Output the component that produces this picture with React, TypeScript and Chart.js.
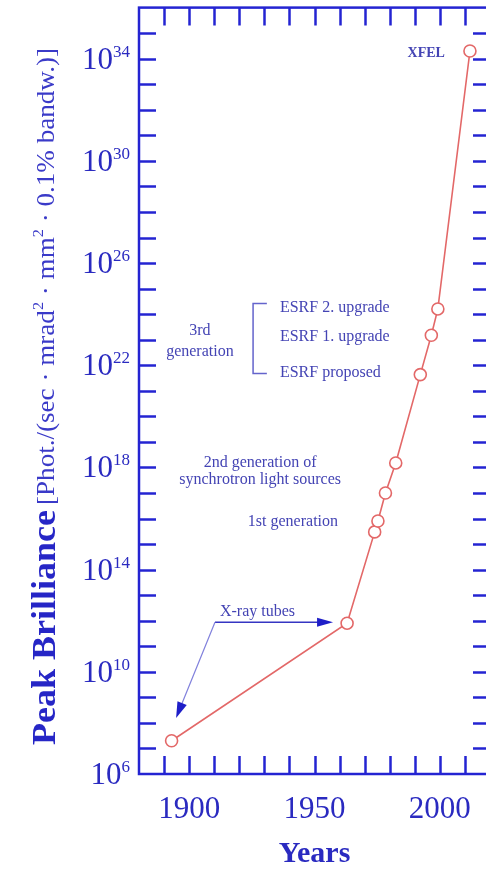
import React, { useEffect, useRef } from "react";
import { Chart, registerables } from "chart.js";

Chart.register(...registerables);

// ---- data ----
const years = [1893, 1963, 1974, 1975.3, 1978.3, 1982.4, 1992.2, 1996.6, 1999.2, 2012];
const brilliance = [2e7, 8e11, 3e15, 8e15, 1e17, 1.5e18, 4.3e21, 1.5e23, 1.6e24, 2e34];

const xTickYears = [1890, 1900, 1910, 1920, 1930, 1940, 1950, 1960, 1970, 1980, 1990, 2000, 2010];
const xLabelYears = [1900, 1950, 2000];
const yTickExponents = [7, 8, 9, 10, 11, 12, 13, 14, 15, 16, 17, 18, 19, 20, 21, 22, 23, 24, 25, 26, 27, 28, 29, 30, 31, 32, 33, 34, 35];
const yLabelExponents = [6, 10, 14, 18, 22, 26, 30, 34];

const xTitle = "Years";
const yTitleMain = "Peak Brilliance";
const yTitleUnitParts = ["[Phot./(sec · mrad", "2", " · mm", "2", " · 0.1% bandw.)]"];

// annotation texts with anchor (year, log10 value)
const annotationTexts = [
  "XFEL",
  "ESRF 2. upgrade",
  "ESRF 1. upgrade",
  "ESRF proposed",
  "3rd",
  "generation",
  "2nd generation of",
  "synchrotron light sources",
  "1st generation",
  "X-ray tubes",
];
const annotationYears = [2002, 1936.2, 1936.2, 1936.2, 1904.3, 1904.3, 1928.3, 1928.3, 1941.4, 1912.3];
const annotationExps = [34.2, 24.26, 23.13, 21.72, 23.33, 22.54, 18.2, 17.5, 15.86, 12.34];
const annotationAlign: CanvasTextAlign[] = ["right", "left", "left", "left", "center", "center", "center", "center", "center", "left"];

// bracket for 3rd generation: x, top exp, bottom exp, tick end x
const bracketYear = 1925.5;
const bracketTickYear = 1931;
const bracketTopExp = 24.42;
const bracketBottomExp = 21.68;

// arrows for X-ray tubes
const arrowStart = [1910.3, 11.94];
const arrowRightEnd = [1957.4, 11.94];
const arrowDownEnd = [1894.8, 8.19];

const SERIF = '"Liberation Serif", "Times New Roman", serif';
const AXIS = "#2424d2";
const LABEL = "#2a2ac0";
const NOTE = "#4444b4";
const LINE = "#e36868";

const CANVAS_W = 520;
const CANVAS_H = 869;

function drawArrowHead(ctx: CanvasRenderingContext2D, fx: number, fy: number, tx: number, ty: number, len: number, half: number) {
  const ang = Math.atan2(ty - fy, tx - fx);
  const bx = tx - len * Math.cos(ang);
  const by = ty - len * Math.sin(ang);
  ctx.beginPath();
  ctx.moveTo(tx, ty);
  ctx.lineTo(bx + half * Math.sin(ang), by - half * Math.cos(ang));
  ctx.lineTo(bx - half * Math.sin(ang), by + half * Math.cos(ang));
  ctx.closePath();
  ctx.fill();
}

const framePlugin = {
  id: "frameAxes",
  beforeDatasetsDraw(chart: any) {
    const { ctx, chartArea: a, scales } = chart;
    const x = scales.x;
    const y = scales.y;
    ctx.save();
    ctx.strokeStyle = AXIS;
    ctx.lineWidth = 2.5;
    ctx.strokeRect(a.left, a.top, a.right - a.left, a.bottom - a.top);
    ctx.beginPath();
    for (const yr of xTickYears) {
      const px = Math.round(x.getPixelForValue(yr)) + 0.5;
      ctx.moveTo(px, a.bottom);
      ctx.lineTo(px, a.bottom - 18);
      ctx.moveTo(px, a.top);
      ctx.lineTo(px, a.top + 18);
    }
    for (const e of yTickExponents) {
      const py = Math.round(y.getPixelForValue(Math.pow(10, e))) + 0.5;
      ctx.moveTo(a.left, py);
      ctx.lineTo(a.left + 17, py);
      ctx.moveTo(a.right, py);
      ctx.lineTo(a.right - 17, py);
    }
    ctx.stroke();

    // y tick labels
    ctx.fillStyle = LABEL;
    ctx.textBaseline = "alphabetic";
    for (const e of yLabelExponents) {
      const py = y.getPixelForValue(Math.pow(10, e));
      const expStr = String(e);
      ctx.font = `17px ${SERIF}`;
      const we = ctx.measureText(expStr).width;
      const right = a.left - 9;
      ctx.textAlign = "left";
      ctx.fillText(expStr, right - we, py - 2);
      ctx.font = `31px ${SERIF}`;
      ctx.textAlign = "right";
      ctx.fillText("10", right - we, py + 10);
    }
    // x tick labels
    ctx.font = `31px ${SERIF}`;
    ctx.textAlign = "center";
    for (const yr of xLabelYears) {
      ctx.fillText(String(yr), x.getPixelForValue(yr), a.bottom + 44);
    }
    // x title
    ctx.font = `bold 30px ${SERIF}`;
    ctx.fillText(xTitle, (a.left + a.right) / 2, a.bottom + 88);

    // y title (rotated)
    ctx.save();
    ctx.translate(55, 0);
    ctx.rotate(-Math.PI / 2);
    // in rotated frame: x' = -canvasY, baseline y'=0
    ctx.textAlign = "left";
    ctx.fillStyle = "#2626c6";
    ctx.font = `bold 34px ${SERIF}`;
    const mainW = ctx.measureText(yTitleMain).width;
    ctx.save();
    ctx.translate(-745, 0);
    ctx.scale(235 / mainW, 1);
    ctx.fillText(yTitleMain, 0, 0);
    ctx.restore();

    // unit part
    ctx.fillStyle = "#3a3ac8";
    let total = 0;
    const widths: number[] = [];
    yTitleUnitParts.forEach((p, i) => {
      ctx.font = i % 2 === 1 ? `15px ${SERIF}` : `25px ${SERIF}`;
      const w = ctx.measureText(p).width;
      widths.push(w);
      total += w;
    });
    ctx.save();
    ctx.translate(-505, -1);
    ctx.scale(457 / total, 1);
    let cx = 0;
    yTitleUnitParts.forEach((p, i) => {
      const sup = i % 2 === 1;
      ctx.font = sup ? `15px ${SERIF}` : `25px ${SERIF}`;
      ctx.fillText(p, cx, sup ? -11 : 0);
      cx += widths[i];
    });
    ctx.restore();
    ctx.restore();

    ctx.restore();
  },
  afterDatasetsDraw(chart: any) {
    const { ctx, scales } = chart;
    const x = scales.x;
    const y = scales.y;
    const px = (yr: number) => x.getPixelForValue(yr);
    const py = (e: number) => y.getPixelForValue(Math.pow(10, e));
    ctx.save();
    ctx.fillStyle = NOTE;
    ctx.textBaseline = "middle";
    annotationTexts.forEach((t, i) => {
      ctx.font = i === 0 ? `bold 14px ${SERIF}` : `16px ${SERIF}`;
      ctx.textAlign = annotationAlign[i];
      ctx.fillText(t, px(annotationYears[i]), py(annotationExps[i]));
    });

    // bracket
    ctx.strokeStyle = "#6464cc";
    ctx.lineWidth = 1.5;
    const bx = px(bracketYear);
    const bt = px(bracketTickYear);
    const top = py(bracketTopExp);
    const bot = py(bracketBottomExp);
    ctx.beginPath();
    ctx.moveTo(bt, top);
    ctx.lineTo(bx, top);
    ctx.lineTo(bx, bot);
    ctx.lineTo(bt, bot);
    ctx.stroke();

    // arrows
    const sx = px(arrowStart[0]);
    const sy = py(arrowStart[1]);
    const rx = px(arrowRightEnd[0]);
    const ry = py(arrowRightEnd[1]);
    const dx = px(arrowDownEnd[0]);
    const dy = py(arrowDownEnd[1]);
    ctx.strokeStyle = "#3535c2";
    ctx.lineWidth = 1.5;
    ctx.beginPath();
    ctx.moveTo(sx, sy);
    ctx.lineTo(rx - 10, ry);
    ctx.stroke();
    ctx.strokeStyle = "#8080dc";
    ctx.lineWidth = 1.2;
    ctx.beginPath();
    ctx.moveTo(sx, sy);
    ctx.lineTo(dx + (sx - dx) * 0.12, dy + (sy - dy) * 0.12);
    ctx.stroke();
    ctx.fillStyle = "#1e1ec8";
    drawArrowHead(ctx, sx, sy, rx, ry, 16, 4.5);
    drawArrowHead(ctx, sx, sy, dx, dy, 16, 5);
    ctx.restore();
  },
};

export default function App() {
  const canvasRef = useRef<HTMLCanvasElement | null>(null);

  useEffect(() => {
    document.body.style.margin = "0";
    const canvas = canvasRef.current;
    if (!canvas) return;
    const chart = new Chart(canvas, {
      type: "line",
      data: {
        datasets: [
          {
            data: years.map((yr, i) => ({ x: yr, y: brilliance[i] })),
            borderColor: LINE,
            borderWidth: 1.6,
            pointRadius: 6,
            pointBackgroundColor: "#ffffff",
            pointBorderColor: LINE,
            pointBorderWidth: 1.6,
            tension: 0,
            clip: false as any,
          },
        ],
      },
      options: {
        animation: false,
        responsive: false,
        devicePixelRatio: 1,
        layout: { padding: { left: 139, top: 7, right: CANVAS_W - 490, bottom: CANVAS_H - 774 } },
        plugins: { legend: { display: false }, tooltip: { enabled: false } },
        events: [],
        scales: {
          x: { type: "linear", min: 1880, max: 2020, display: false },
          y: { type: "logarithmic", min: 1e6, max: 1e36, display: false },
        },
      },
      plugins: [framePlugin],
    });
    return () => chart.destroy();
  }, []);

  return (
    <div style={{ position: "absolute", left: 0, top: 0, width: 486, height: 869, overflow: "hidden", background: "#ffffff" }}>
      <canvas ref={canvasRef} width={CANVAS_W} height={CANVAS_H} style={{ display: "block" }} />
    </div>
  );
}
